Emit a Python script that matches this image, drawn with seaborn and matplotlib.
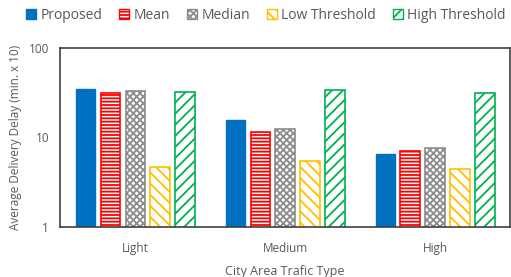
import matplotlib
matplotlib.use("Agg")
import matplotlib.pyplot as plt
from matplotlib.patches import Patch
import seaborn as sns
import pandas as pd

# values (min. x 10)
traffic = ["Light", "Medium", "High"]
methods = ["Proposed", "Mean", "Median", "Low Threshold", "High Threshold"]
proposed = [35.0, 15.5, 6.5]
mean_vals = [31.3, 11.5, 7.1]
median_vals = [32.9, 12.4, 7.7]
low_thr = [4.7, 5.5, 4.45]
high_thr = [32.0, 34.0, 31.0]

colors = ["#0070C0", "#FF0000", "#8C8C8C", "#FFC000", "#00B050"]
hatches = [None, "-----", "xxxxx", "\\\\\\", "///"]

df = pd.DataFrame({
    "traffic": traffic * 5,
    "method": sum([[m] * 3 for m in methods], []),
    "delay": proposed + mean_vals + median_vals + low_thr + high_thr,
})

sns.set_style("white")
plt.rcParams["font.family"] = ["Open Sans", "DejaVu Sans"]
plt.rcParams["hatch.linewidth"] = 1.3

fig = plt.figure(figsize=(5.11, 2.77), dpi=100)
ax = fig.add_axes([0.118, 0.181, 0.88, 0.646])

sns.barplot(data=df, x="traffic", y="delay", hue="method", hue_order=methods,
            order=traffic, width=0.83, gap=0.22, ax=ax, legend=False,
            palette=colors, saturation=1)

for cont, col, h in zip(ax.containers, colors, hatches):
    for bar in cont:
        if h is None:
            bar.set_facecolor(col)
            bar.set_edgecolor(col)
        else:
            bar.set_facecolor("white")
            bar.set_edgecolor(col)
            bar.set_hatch(h)
            bar.set_linewidth(1.2)

ax.set_yscale("log")
ax.set_ylim(1, 100)
ax.set_yticks([1, 10, 100], labels=["1", "10", "100"])
ax.minorticks_off()
ax.tick_params(axis="both", length=0, labelsize=8.5, colors="#595959", pad=8)
ax.tick_params(axis="x", pad=11)

for s in ax.spines.values():
    s.set_color("#404040")
    s.set_linewidth(1.2)

ax.set_xlabel("City Area Trafic Type", fontsize=9, color="#595959", labelpad=7)
ax.set_ylabel("Average Delivery Delay (min. x 10)", fontsize=8.5, color="#595959", labelpad=5)

handles = [Patch(facecolor=c if h is None else "white", edgecolor=c, hatch=h, label=m)
           for m, c, h in zip(methods, colors, hatches)]
fig.legend(handles=handles, loc="center", bbox_to_anchor=(0.52, 0.945), ncol=5,
           frameon=False, fontsize=10, handlelength=0.75, handleheight=0.75,
           handletextpad=0.3, columnspacing=1.2, labelcolor="#595959")

fig.savefig("out.png", dpi=100)
